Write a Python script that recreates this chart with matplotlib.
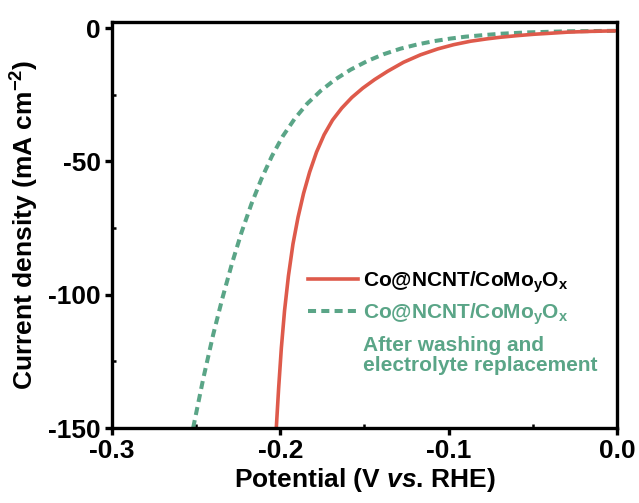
import numpy as np
import matplotlib.pyplot as plt
from matplotlib.ticker import MultipleLocator

plt.rcParams['font.family'] = ['Liberation Sans', 'DejaVu Sans']
plt.rcParams['font.weight'] = 'bold'
plt.rcParams['mathtext.fontset'] = 'custom'
plt.rcParams['mathtext.rm'] = 'Liberation Sans:bold'
plt.rcParams['mathtext.bf'] = 'Liberation Sans:bold'
plt.rcParams['mathtext.it'] = 'Liberation Sans:bold:italic'
plt.rcParams['mathtext.default'] = 'bf'

# LSV curves, potential (V vs. RHE) and current density (mA cm-2)
E_fresh = [-0.2024, -0.2010, -0.1994, -0.1975, -0.1952, -0.1925, -0.1895, -0.1862,
           -0.1826, -0.1785, -0.1740, -0.1690, -0.1635, -0.1575, -0.1510, -0.1440,
           -0.1363, -0.1268, -0.1167, -0.1065, -0.0970, -0.0869, -0.0770, -0.0690,
           -0.0590, -0.0494, -0.0390, -0.0292, -0.0150, 0.0]
J_fresh = [-150.0, -135.0, -120.0, -106.0, -93.0, -81.0, -71.0, -62.0,
           -54.0, -46.5, -40.0, -34.5, -30.0, -26.0, -22.5, -19.3,
           -16.2, -12.8, -10.0, -7.8, -6.2, -4.9, -4.0, -3.4,
           -2.8, -2.3, -1.9, -1.5, -1.2, -1.0]

E_washed = [-0.2518, -0.2458, -0.2399, -0.2345, -0.2286, -0.2230, -0.2172, -0.2112,
            -0.2050, -0.1985, -0.1915, -0.1840, -0.1760, -0.1675, -0.1583, -0.1482,
            -0.1387, -0.1286, -0.1185, -0.1089, -0.0988, -0.0899, -0.0790, -0.0690,
            -0.0530, -0.0300, 0.0]
J_washed = [-150.0, -131.5, -115.0, -101.5, -88.0, -76.5, -66.0, -56.5,
            -48.0, -40.5, -34.0, -28.3, -23.5, -19.3, -15.6, -12.3,
            -9.8, -7.7, -6.1, -4.9, -3.9, -3.2, -2.6, -2.1,
            -1.6, -1.2, -1.0]

label_fresh = 'Co@NCNT/CoMo$_\\mathbf{y}$O$_\\mathbf{x}$'
label_washed = 'Co@NCNT/CoMo$_\\mathbf{y}$O$_\\mathbf{x}$'
note_washed = 'After washing and\nelectrolyte replacement'

red = '#de5a4b'
green = '#5aa587'

fig = plt.figure(figsize=(6.39, 5.03), dpi=100)
ax = fig.add_axes([112/639, 1-428/503, 505/639, 406/503])

ax.plot(E_washed, J_washed, color=green, lw=2.9, ls=(0, (2.0, 1.3)), label=label_washed)
ax.plot(E_fresh, J_fresh, color=red, lw=2.6, label=label_fresh)

ax.set_xlim(-0.3, 0.0)
ax.set_ylim(-150, 2.3)
ax.xaxis.set_minor_locator(MultipleLocator(0.05))
ax.yaxis.set_minor_locator(MultipleLocator(25))
ax.set_xticks([-0.3, -0.2, -0.1, 0.0], ['-0.3', '-0.2', '-0.1', '0.0'])
ax.set_yticks([0, -50, -100, -150], ['0', '-50', '-100', '-150'])

for s in ax.spines.values():
    s.set_linewidth(2.4)
ax.tick_params(which='major', direction='out', length=5, width=2.4, labelsize=19, pad=3)
ax.tick_params(which='minor', direction='in', length=3, width=1.8)

ax.set_xlabel('Potential (V $\\mathit{vs}$. RHE)', fontsize=19, fontweight='bold', labelpad=2)
ax.set_ylabel('Current density (mA cm$^{\\mathbf{-2}}$)', fontsize=19, fontweight='bold', labelpad=5)

# legend: fresh catalyst first, then after washing
h, l = ax.get_legend_handles_labels()
leg = ax.legend(h[::-1], l[::-1], loc='center left', bbox_to_anchor=(0.388, 0.320),
                frameon=False, fontsize=15, handlelength=2.4, handletextpad=0.25,
                labelspacing=0.31, borderpad=0, borderaxespad=0)
leg.get_texts()[0].set_color('black')
leg.get_texts()[1].set_color(green)
ax.text(0.497, 0.178, note_washed, transform=ax.transAxes, color=green,
        fontsize=15, fontweight='bold', ha='left', va='center', linespacing=1.1)

plt.savefig('out.png', dpi=100)
